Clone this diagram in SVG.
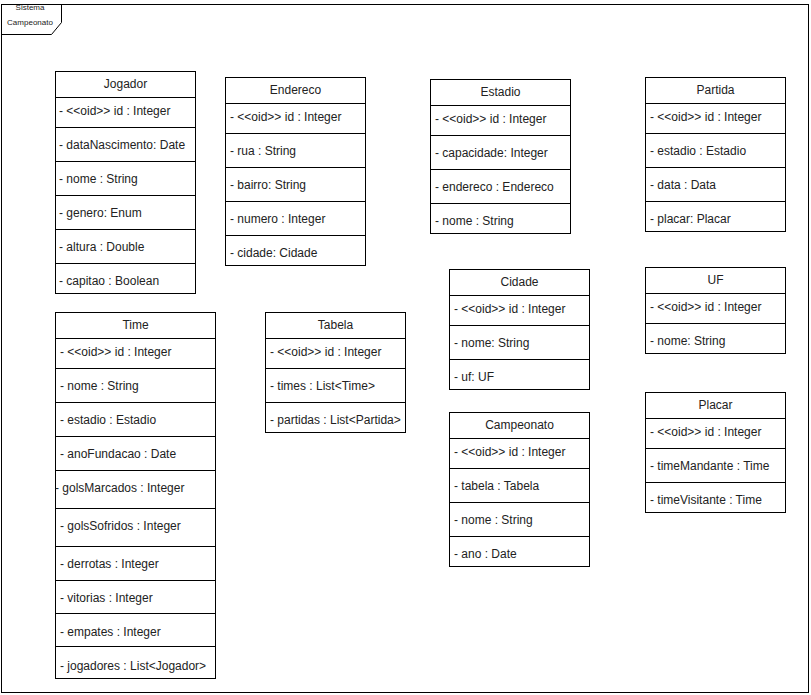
<svg xmlns="http://www.w3.org/2000/svg" width="811" height="695" viewBox="0 0 811 695">
  <style>
    .box { fill: #ffffff; stroke: #000000; stroke-width: 1; }
    .sep { stroke: #000000; stroke-width: 1; fill: none; }
    .title { font-family: "Liberation Sans", Arial, sans-serif; font-size: 12px; fill: #222222; text-anchor: middle; }
    .attr { font-family: "Liberation Sans", Arial, sans-serif; font-size: 12px; fill: #222222; }
    .frame-label { font-family: "Liberation Sans", Arial, sans-serif; font-size: 8px; fill: #222222; text-anchor: middle; }
  </style>
  <rect width="811" height="695" fill="#ffffff"/>

  <!-- package frame -->
  <g id="frame">
    <rect class="box" x="1.5" y="4.5" width="807" height="688"/>
    <path class="sep" d="M1.5 34.5 H51.5 L61.5 22.5 V4.5"/>
    <text class="frame-label" x="30" y="10">Sistema</text>
    <text class="frame-label" x="30" y="25">Campeonato</text>
  </g>

  <g id="connectors"></g>

  <!-- Jogador -->
  <g id="jogador">
    <rect class="box" x="55.5" y="71.5" width="140" height="222"/>
    <path class="sep" d="M55.5 97.5 H195.5 M55.5 127.5 H195.5 M55.5 161.5 H195.5 M55.5 195.5 H195.5 M55.5 229.5 H195.5 M55.5 263.5 H195.5"/>
    <text class="title" x="125.5" y="88">Jogador</text>
    <text class="attr" x="59" y="115">- &lt;&lt;oid&gt;&gt; id : Integer</text>
    <text class="attr" x="59" y="149">- dataNascimento: Date</text>
    <text class="attr" x="59" y="183">- nome : String</text>
    <text class="attr" x="59" y="217">- genero: Enum</text>
    <text class="attr" x="59" y="251">- altura : Double</text>
    <text class="attr" x="59" y="285">- capitao : Boolean</text>
  </g>

  <!-- Endereco -->
  <g id="endereco">
    <rect class="box" x="225.5" y="77.5" width="140" height="188"/>
    <path class="sep" d="M225.5 103.5 H365.5 M225.5 133.5 H365.5 M225.5 167.5 H365.5 M225.5 201.5 H365.5 M225.5 235.5 H365.5"/>
    <text class="title" x="295.5" y="94">Endereco</text>
    <text class="attr" x="230" y="121">- &lt;&lt;oid&gt;&gt; id : Integer</text>
    <text class="attr" x="230" y="155">- rua : String</text>
    <text class="attr" x="230" y="189">- bairro: String</text>
    <text class="attr" x="230" y="223">- numero : Integer</text>
    <text class="attr" x="230" y="257">- cidade: Cidade</text>
  </g>

  <!-- Estadio -->
  <g id="estadio">
    <rect class="box" x="430.5" y="79.5" width="140" height="154"/>
    <path class="sep" d="M430.5 105.5 H570.5 M430.5 135.5 H570.5 M430.5 169.5 H570.5 M430.5 203.5 H570.5"/>
    <text class="title" x="500.5" y="96">Estadio</text>
    <text class="attr" x="435" y="123">- &lt;&lt;oid&gt;&gt; id : Integer</text>
    <text class="attr" x="435" y="157">- capacidade: Integer</text>
    <text class="attr" x="435" y="191">- endereco : Endereco</text>
    <text class="attr" x="435" y="225">- nome : String</text>
  </g>

  <!-- Partida -->
  <g id="partida">
    <rect class="box" x="645.5" y="77.5" width="140" height="154"/>
    <path class="sep" d="M645.5 103.5 H785.5 M645.5 133.5 H785.5 M645.5 167.5 H785.5 M645.5 201.5 H785.5"/>
    <text class="title" x="715.5" y="94">Partida</text>
    <text class="attr" x="650" y="121">- &lt;&lt;oid&gt;&gt; id : Integer</text>
    <text class="attr" x="650" y="155">- estadio : Estadio</text>
    <text class="attr" x="650" y="189">- data : Data</text>
    <text class="attr" x="650" y="223">- placar: Placar</text>
  </g>

  <!-- Time -->
  <g id="time">
    <rect class="box" x="55.5" y="312.5" width="160" height="366"/>
    <path class="sep" d="M55.5 338.5 H215.5 M55.5 368.5 H215.5 M55.5 402.5 H215.5 M55.5 436.5 H215.5 M55.5 470.5 H215.5 M55.5 508.5 H215.5 M55.5 546.5 H215.5 M55.5 580.5 H215.5 M55.5 613.5 H215.5 M55.5 646.5 H215.5"/>
    <text class="title" x="135.5" y="329">Time</text>
    <text class="attr" x="60" y="356">- &lt;&lt;oid&gt;&gt; id : Integer</text>
    <text class="attr" x="60" y="390">- nome : String</text>
    <text class="attr" x="60" y="424">- estadio : Estadio</text>
    <text class="attr" x="60" y="458">- anoFundacao : Date</text>
    <text class="attr" x="55" y="492">- golsMarcados : Integer</text>
    <text class="attr" x="60" y="530">- golsSofridos : Integer</text>
    <text class="attr" x="60" y="568">- derrotas : Integer</text>
    <text class="attr" x="60" y="602">- vitorias : Integer</text>
    <text class="attr" x="60" y="636">- empates : Integer</text>
    <text class="attr" x="60" y="670">- jogadores : List&lt;Jogador&gt;</text>
  </g>

  <!-- Tabela -->
  <g id="tabela">
    <rect class="box" x="265.5" y="312.5" width="140" height="120"/>
    <path class="sep" d="M265.5 338.5 H405.5 M265.5 368.5 H405.5 M265.5 402.5 H405.5"/>
    <text class="title" x="335.5" y="329">Tabela</text>
    <text class="attr" x="270" y="356">- &lt;&lt;oid&gt;&gt; id : Integer</text>
    <text class="attr" x="270" y="390">- times : List&lt;Time&gt;</text>
    <text class="attr" x="270" y="424">- partidas : List&lt;Partida&gt;</text>
  </g>

  <!-- Cidade -->
  <g id="cidade">
    <rect class="box" x="449.5" y="269.5" width="140" height="120"/>
    <path class="sep" d="M449.5 295.5 H589.5 M449.5 325.5 H589.5 M449.5 359.5 H589.5"/>
    <text class="title" x="519.5" y="286">Cidade</text>
    <text class="attr" x="454" y="313">- &lt;&lt;oid&gt;&gt; id : Integer</text>
    <text class="attr" x="454" y="347">- nome: String</text>
    <text class="attr" x="454" y="381">- uf: UF</text>
  </g>

  <!-- UF -->
  <g id="uf">
    <rect class="box" x="645.5" y="267.5" width="140" height="86"/>
    <path class="sep" d="M645.5 293.5 H785.5 M645.5 323.5 H785.5"/>
    <text class="title" x="715.5" y="284">UF</text>
    <text class="attr" x="650" y="311">- &lt;&lt;oid&gt;&gt; id : Integer</text>
    <text class="attr" x="650" y="345">- nome: String</text>
  </g>

  <!-- Campeonato -->
  <g id="campeonato">
    <rect class="box" x="449.5" y="412.5" width="140" height="154"/>
    <path class="sep" d="M449.5 438.5 H589.5 M449.5 468.5 H589.5 M449.5 502.5 H589.5 M449.5 536.5 H589.5"/>
    <text class="title" x="519.5" y="429">Campeonato</text>
    <text class="attr" x="454" y="456">- &lt;&lt;oid&gt;&gt; id : Integer</text>
    <text class="attr" x="454" y="490">- tabela : Tabela</text>
    <text class="attr" x="454" y="524">- nome : String</text>
    <text class="attr" x="454" y="558">- ano : Date</text>
  </g>

  <!-- Placar -->
  <g id="placar">
    <rect class="box" x="645.5" y="392.5" width="140" height="120"/>
    <path class="sep" d="M645.5 418.5 H785.5 M645.5 448.5 H785.5 M645.5 482.5 H785.5"/>
    <text class="title" x="715.5" y="409">Placar</text>
    <text class="attr" x="650" y="436">- &lt;&lt;oid&gt;&gt; id : Integer</text>
    <text class="attr" x="650" y="470">- timeMandante : Time</text>
    <text class="attr" x="650" y="504">- timeVisitante : Time</text>
  </g>
</svg>
